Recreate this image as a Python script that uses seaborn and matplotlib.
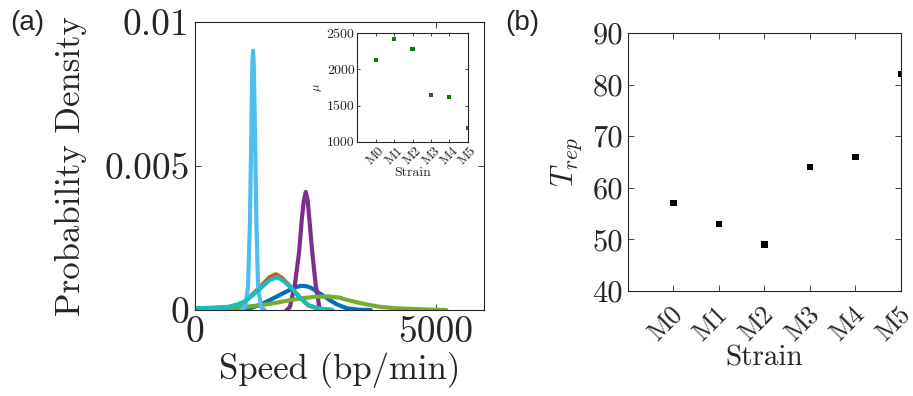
import matplotlib
matplotlib.use("Agg")
import matplotlib.pyplot as plt
import matplotlib.transforms as mtransforms
import seaborn as sns

# strains and summary values
strains = ['M0', 'M1', 'M2', 'M3', 'M4', 'M5']
t_rep = [57, 53, 49, 64, 66, 82]
mu = [2130, 2425, 2280, 1645, 1615, 1190]

# speed distributions (bp/min, density)
speed_blue = [0, 800, 1140, 1300, 1490, 1760, 1970, 2100, 2210, 2330, 2420, 2550, 2660, 2800, 2940, 3150, 3400, 3650]
dens_blue = [0.00001, 0.00002, 0.00006, 0.00015, 0.00029, 0.00052, 0.0007, 0.0008, 0.00084, 0.00082, 0.00076, 0.00062, 0.0005, 0.00034, 0.0002, 0.00006, 0.00001, 0.0]

speed_orange = [0, 400, 700, 900, 1040, 1200, 1380, 1550, 1680, 1800, 1900, 2000, 2100, 2200, 2350, 2550, 2850]
dens_orange = [0.00005, 0.00007, 0.0001, 0.00018, 0.0003, 0.00055, 0.00085, 0.00114, 0.00124, 0.00112, 0.00095, 0.00078, 0.00058, 0.0004, 0.00016, 0.00005, 0.0]

speed_purple = [1900, 1970, 2075, 2160, 2220, 2260, 2300, 2340, 2372, 2434, 2504, 2580, 2630]
dens_purple = [0.0, 0.0001, 0.0009, 0.002, 0.0032, 0.0038, 0.0041, 0.0038, 0.0032, 0.002, 0.0009, 0.0001, 0.0]

speed_green = [0, 700, 1000, 1380, 1650, 2000, 2200, 2490, 2770, 3000, 3110, 3460, 3800, 4150, 4770, 5220]
dens_green = [0.00003, 0.00006, 0.0001, 0.00017, 0.00024, 0.00035, 0.0004, 0.00046, 0.00047, 0.00043, 0.00037, 0.00023, 0.00012, 0.00006, 0.00002, 0.0]

speed_lightblue = [950, 1040, 1100, 1140, 1170, 1190, 1205, 1220, 1245, 1275, 1310, 1370, 1450]
dens_lightblue = [0.0, 0.0001, 0.0008, 0.003, 0.0062, 0.0085, 0.009, 0.0085, 0.0062, 0.003, 0.0008, 0.0001, 0.0]

speed_teal = [0, 400, 700, 900, 1040, 1200, 1380, 1550, 1700, 1800, 1900, 2000, 2100, 2200, 2350, 2550, 2850]
dens_teal = [0.00006, 0.00008, 0.00011, 0.0002, 0.0003, 0.00052, 0.00078, 0.00104, 0.00114, 0.00105, 0.00092, 0.00077, 0.00058, 0.0004, 0.00017, 0.00006, 0.0]

curves = [
    (speed_blue, dens_blue, '#0072BD'),
    (speed_orange, dens_orange, '#D95319'),
    (speed_purple, dens_purple, '#7E2F8E'),
    (speed_green, dens_green, '#77AC30'),
    (speed_lightblue, dens_lightblue, '#4DBEEE'),
    (speed_teal, dens_teal, '#14BFBF'),
]

sns.set_theme(style='ticks')
plt.rcParams['font.family'] = 'cmr10'
plt.rcParams['mathtext.fontset'] = 'cm'
plt.rcParams['axes.unicode_minus'] = False

ink = '#262626'


def matlab_box(ax, size):
    for s in ax.spines.values():
        s.set_visible(True)
        s.set_color(ink)
        s.set_linewidth(0.8)
    ax.tick_params(direction='in', top=True, right=True, length=4, width=0.6,
                   colors=ink, labelsize=size, labelcolor=ink)
    ax.set_facecolor('white')


def tilt_labels(ax, shift_px=0):
    offset = mtransforms.ScaledTranslation(shift_px / 100.0, 0, ax.figure.dpi_scale_trans)
    for lab in ax.get_xticklabels():
        lab.set_rotation(45)
        lab.set_ha('center')
        lab.set_va('top')
        if shift_px:
            lab.set_transform(lab.get_transform() + offset)


fig = plt.figure(figsize=(9.13, 3.96), dpi=100)

# (a) speed distributions
ax_a = fig.add_axes([0.2136, 0.2172, 0.3165, 0.7273])
for sp, dn, col in curves:
    sns.lineplot(x=sp, y=dn, ax=ax_a, color=col, linewidth=3.0, sort=False, estimator=None)
ax_a.set_xlim(0, 6000)
ax_a.set_ylim(0, 0.01)
ax_a.set_xticks([0, 5000])
ax_a.set_xticklabels(['0', '5000'])
ax_a.set_yticks([0, 0.005, 0.01])
ax_a.set_yticklabels(['0', '0.005', '0.01'])
matlab_box(ax_a, 27)
ax_a.tick_params(axis='both', pad=4)
ax_a.set_xlabel('Speed (bp/min)', fontsize=25, color=ink, labelpad=2)
ax_a.set_ylabel('Probability Density', fontsize=25, color=ink, labelpad=12)

# inset: mean speed per strain
ax_in = fig.add_axes([0.3914, 0.6422, 0.1209, 0.2737])
sns.scatterplot(x=strains, y=mu, ax=ax_in, marker='s', s=9, color='#117711', edgecolor='none')
ax_in.set_xlim(-1, 5)
ax_in.set_ylim(1000, 2500)
ax_in.set_yticks([1000, 1500, 2000, 2500])
matlab_box(ax_in, 10)
ax_in.tick_params(length=2, pad=2)
tilt_labels(ax_in)
ax_in.set_xlabel('Strain', fontsize=10, color=ink, labelpad=0)
ax_in.set_ylabel(r'$\mu$', fontsize=9, color=ink, labelpad=2)

# (b) replication time per strain
ax_b = fig.add_axes([0.6878, 0.2652, 0.2990, 0.6515])
sns.scatterplot(x=strains, y=t_rep, ax=ax_b, marker='s', s=20, color='black', edgecolor='none')
ax_b.set_xlim(-1, 5)
ax_b.set_ylim(40, 90)
ax_b.set_yticks([40, 50, 60, 70, 80, 90])
matlab_box(ax_b, 22)
ax_b.tick_params(axis='x', pad=8, labelsize=19)
tilt_labels(ax_b, shift_px=-8)
ax_b.set_xlabel('Strain', fontsize=21, color=ink, labelpad=0)
ax_b.set_ylabel(r'$T_{rep}$', fontsize=22, color=ink, labelpad=6)

fig.text(0.011, 0.975, '(a)', fontsize=20, family='Liberation Sans', va='top', ha='left')
fig.text(0.553, 0.975, '(b)', fontsize=20, family='Liberation Sans', va='top', ha='left')

fig.savefig('out.png', dpi=100, facecolor='white')
